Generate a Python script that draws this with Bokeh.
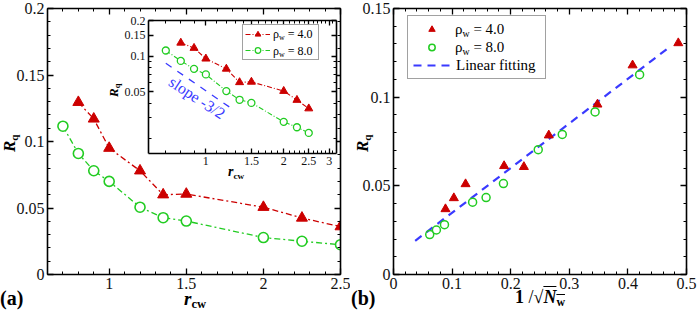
import numpy as np
from bokeh.plotting import figure
from bokeh.models import (FixedTicker, LinearAxis, LogAxis, Label, Legend, LegendItem,
                          CustomJSTickFormatter, Range1d, Div)
from bokeh.layouts import row
from bokeh.embed import file_html
from bokeh.resources import INLINE

# ---------------- data ----------------
r_cw_red = [0.8, 0.9, 1.0, 1.2, 1.35, 1.5, 2.0, 2.25, 2.5]
rq_red = [0.1295, 0.117, 0.095, 0.078, 0.060, 0.0605, 0.0506, 0.0425, 0.036]
r_cw_green = [0.7, 0.8, 0.9, 1.0, 1.2, 1.35, 1.5, 2.0, 2.25, 2.5]
rq_green = [0.1115, 0.091, 0.078, 0.070, 0.0506, 0.0427, 0.0402, 0.0278, 0.0250, 0.0224]

inv_sqrt_n_red = [0.486, 0.408, 0.348, 0.265, 0.2225, 0.1887, 0.123, 0.103, 0.0887]
rq_b_red = [0.1305, 0.118, 0.0959, 0.0785, 0.0607, 0.0612, 0.051, 0.0431, 0.0369]
inv_sqrt_n_green = [0.420, 0.344, 0.288, 0.247, 0.1876, 0.158, 0.135, 0.087, 0.0732, 0.0618]
rq_b_green = [0.1127, 0.0917, 0.079, 0.0704, 0.0513, 0.0434, 0.0408, 0.0281, 0.0251, 0.0225]
fit_x = [0.037, 0.47]
fit_y = [0.019, 0.128]

slope_x = [0.70, 1.27]
slope_y = [0.087, 0.0355]

a_x_major = [1.0, 1.5, 2.0, 2.5]
a_x_minor = [round(0.6 + 0.1 * i, 2) for i in range(20)]
a_y_major = [0.0, 0.05, 0.1, 0.15, 0.2]
a_y_minor = [round(0.01 * i, 2) for i in range(21)]
b_x_major = [0.0, 0.1, 0.2, 0.3, 0.4, 0.5]
b_x_minor = [round(0.02 * i, 2) for i in range(26)]
b_y_major = [0.0, 0.05, 0.1, 0.15]
b_y_minor = [round(0.01 * i, 2) for i in range(16)]
in_x_major = [1.0, 1.5, 2.0, 2.5, 3.0]
in_x_minor = [0.7, 0.8, 0.9] + [round(1.0 + 0.1 * i, 2) for i in range(1, 22)]
in_y_major = [0.05, 0.1, 0.15, 0.2]
in_y_minor = [0.02, 0.03, 0.04, 0.06, 0.07, 0.08, 0.09]

RED = "#cc0000"
GREEN = "#22cc22"
BLUE = "#3a3aff"
SERIF = "Liberation Serif"

fmt_code = "return (Math.round(tick*10000)/10000).toString();"


def style_axis(ax, major, minor, size="16px", show=True):
    ax.ticker = FixedTicker(ticks=major, minor_ticks=minor)
    ax.formatter = CustomJSTickFormatter(code=fmt_code)
    ax.axis_line_width = 1.6
    ax.axis_line_color = "black"
    ax.major_tick_in = 6
    ax.major_tick_out = 0
    ax.minor_tick_in = 3
    ax.minor_tick_out = 0
    ax.major_tick_line_width = 1.3
    ax.minor_tick_line_width = 1
    ax.major_label_text_font = SERIF
    ax.major_label_text_color = "#111111"
    if show:
        ax.major_label_text_font_size = size
        ax.major_label_standoff = 3
    else:
        ax.major_label_text_font_size = "1px"
        ax.major_label_text_alpha = 0
        ax.major_label_text_color = None
        ax.major_label_standoff = 0


def add_mirror(p, xmaj, xmin, ymaj, ymin, log=False):
    Ax = LogAxis if log else LinearAxis
    top = Ax()
    right = Ax()
    style_axis(top, xmaj, xmin, show=False)
    style_axis(right, ymaj, ymin, show=False)
    p.add_layout(top, "above")
    p.add_layout(right, "right")


def sub(t, shift="0.28em"):
    return f'<span style="font-size:0.66em;position:relative;top:{shift}">{t}</span>'


def text_div(html, left, top, size, w=140, h=24, rotate=False):
    st = {"position": "absolute", "left": f"{left}px", "top": f"{top}px",
          "font-family": SERIF, "font-size": f"{size}px", "line-height": "1",
          "color": "black", "white-space": "nowrap", "overflow": "visible",
          "margin": "0", "padding": "0"}
    if rotate:
        st["transform"] = "rotate(-90deg)"
        st["transform-origin"] = "0 0"
    inner = (f'<span style="font-family:{SERIF};font-size:{size}px;line-height:1;'
             f'white-space:nowrap;color:black">{html}</span>')
    return Div(text=inner, width=w, height=h, styles=st)


# ---------------- panel (a) ----------------
pa = figure(width=350, height=312, x_range=Range1d(0.6, 2.5), y_range=Range1d(0, 0.2),
            output_backend="svg", toolbar_location=None,
            min_border_left=47, min_border_right=10, min_border_top=8, min_border_bottom=38)
pa.grid.visible = False
pa.outline_line_color = None
style_axis(pa.xaxis[0], a_x_major, a_x_minor)
style_axis(pa.yaxis[0], a_y_major, a_y_minor)
add_mirror(pa, a_x_major, a_x_minor, a_y_major, a_y_minor)

pa.line(r_cw_red, rq_red, line_color=RED, line_width=1.3, line_dash="6 3 2 3")
pa.scatter(r_cw_red, rq_red, marker="triangle", size=11, fill_color=RED, line_color=RED)
pa.line(r_cw_green, rq_green, line_color=GREEN, line_width=1.3, line_dash="6 3 2 3")
pa.scatter(r_cw_green, rq_green, marker="circle", size=10, fill_color="white",
           line_color=GREEN, line_width=1.6)

# ---------------- panel (b) ----------------
pb = figure(width=348, height=312, x_range=Range1d(0, 0.5), y_range=Range1d(0, 0.15),
            output_backend="svg", toolbar_location=None,
            min_border_left=43, min_border_right=12, min_border_top=8, min_border_bottom=38)
pb.grid.visible = False
pb.outline_line_color = None
style_axis(pb.xaxis[0], b_x_major, b_x_minor)
style_axis(pb.yaxis[0], b_y_major, b_y_minor)
add_mirror(pb, b_x_major, b_x_minor, b_y_major, b_y_minor)

r_fit = pb.line(fit_x, fit_y, line_color=BLUE, line_width=2.2, line_dash="8 6")
r_red = pb.scatter(inv_sqrt_n_red, rq_b_red, marker="triangle", size=9,
                   fill_color=RED, line_color=RED)
r_green = pb.scatter(inv_sqrt_n_green, rq_b_green, marker="circle", size=8,
                     fill_color=None, line_color=GREEN, line_width=1.5)

leg_b = Legend(items=[LegendItem(label=" ", renderers=[r_red]),
                      LegendItem(label=" ", renderers=[r_green]),
                      LegendItem(label=" ", renderers=[r_fit])],
               location=(14, 195), label_text_font=SERIF, label_text_font_size="6px",
               glyph_width=37, glyph_height=16, label_height=16, label_standoff=3,
               label_width=87, padding=5, spacing=2, margin=0,
               border_line_color="#444444", border_line_width=1,
               background_fill_color="white", background_fill_alpha=1)
pb.add_layout(leg_b)

# ---------------- inset ----------------
inset = figure(width=232, height=173, x_axis_type="log", y_axis_type="log",
               x_range=Range1d(0.6, 3.2), y_range=Range1d(0.015, 0.2),
               output_backend="svg", toolbar_location=None,
               min_border_left=40, min_border_right=4, min_border_top=8, min_border_bottom=32,
               styles={"position": "absolute", "left": "108px", "top": "12px"})
inset.grid.visible = False
inset.outline_line_color = None
inset.border_fill_color = None
inset.border_fill_alpha = 0
inset.background_fill_color = "white"
style_axis(inset.xaxis[0], in_x_major, in_x_minor, size="12px")
style_axis(inset.yaxis[0], in_y_major, in_y_minor, size="12px")
add_mirror(inset, in_x_major, in_x_minor, in_y_major, in_y_minor, log=True)
for ax in inset.axis:
    ax.major_tick_in = 5
    ax.minor_tick_in = 3

i_rl = inset.line(r_cw_red, rq_red, line_color=RED, line_width=1.1, line_dash="5 2 1 2")
i_rs = inset.scatter(r_cw_red, rq_red, marker="triangle", size=8, fill_color=RED, line_color=RED)
i_gl = inset.line(r_cw_green, rq_green, line_color=GREEN, line_width=1.1, line_dash="5 2 1 2")
i_gs = inset.scatter(r_cw_green, rq_green, marker="circle", size=7, fill_color="white",
                     line_color=GREEN, line_width=1.3)
inset.line(slope_x, slope_y, line_color=BLUE, line_width=1.3, line_dash="7 7")
inset.add_layout(Label(x=0.925, y=0.0445, text="slope -3/2", text_font=SERIF,
                       text_font_size="16px", text_color=BLUE, angle=-0.58,
                       text_align="center", text_baseline="middle"))

leg_i = Legend(items=[LegendItem(label=" ", renderers=[i_rl, i_rs]),
                      LegendItem(label=" ", renderers=[i_gl, i_gs])],
               location=(94, 93), label_text_font=SERIF, label_text_font_size="6px",
               glyph_width=25, glyph_height=14, label_height=14, label_standoff=3,
               label_width=43, padding=2, spacing=2, margin=0,
               border_line_color="#444444", border_line_width=1,
               background_fill_color="white")
inset.add_layout(leg_i)

# ---------------- texts (HTML, for subscripts) ----------------
R_Q = '<b><i>R</i>' + sub("q") + '</b>'
texts = [
    text_div(R_Q, 1, 152, 17, w=30, h=22, rotate=True),
    text_div(R_Q, 354, 152, 17, w=30, h=22, rotate=True),
    text_div(R_Q, 107, 97, 13, w=24, h=17, rotate=True),
    text_div('<b><i>r</i>' + sub("cw", "0.2em") + '</b>', 184, 289, 19, w=40, h=22),
    text_div('<b><i>r</i>' + sub("cw") + '</b>', 228, 165, 14, w=30, h=19),
    text_div('<b>(a)</b>', 0, 288, 20, w=30, h=22),
    text_div('<b>(b)</b>', 351, 288, 20, w=30, h=22),
    text_div('<b>1</b> /\u221a<span style="text-decoration:overline"><b><i>N</i>'
             + sub("w") + '</b></span>', 515, 288, 18, w=60, h=23),
    text_div('\u03c1' + sub("w") + ' = 4.0', 455, 22, 15, w=70, h=19),
    text_div('\u03c1' + sub("w") + ' = 8.0', 455, 40, 15, w=70, h=19),
    text_div('Linear fitting', 456, 58, 15, w=85, h=19),
    text_div('\u03c1' + sub("w") + ' = 4.0', 273, 28, 12, w=45, h=15),
    text_div('\u03c1' + sub("w") + ' = 8.0', 273, 45, 12, w=45, h=15),
]

p = [row(pa, pb), inset] + texts
open("out.html", "w").write(file_html(p, INLINE))
